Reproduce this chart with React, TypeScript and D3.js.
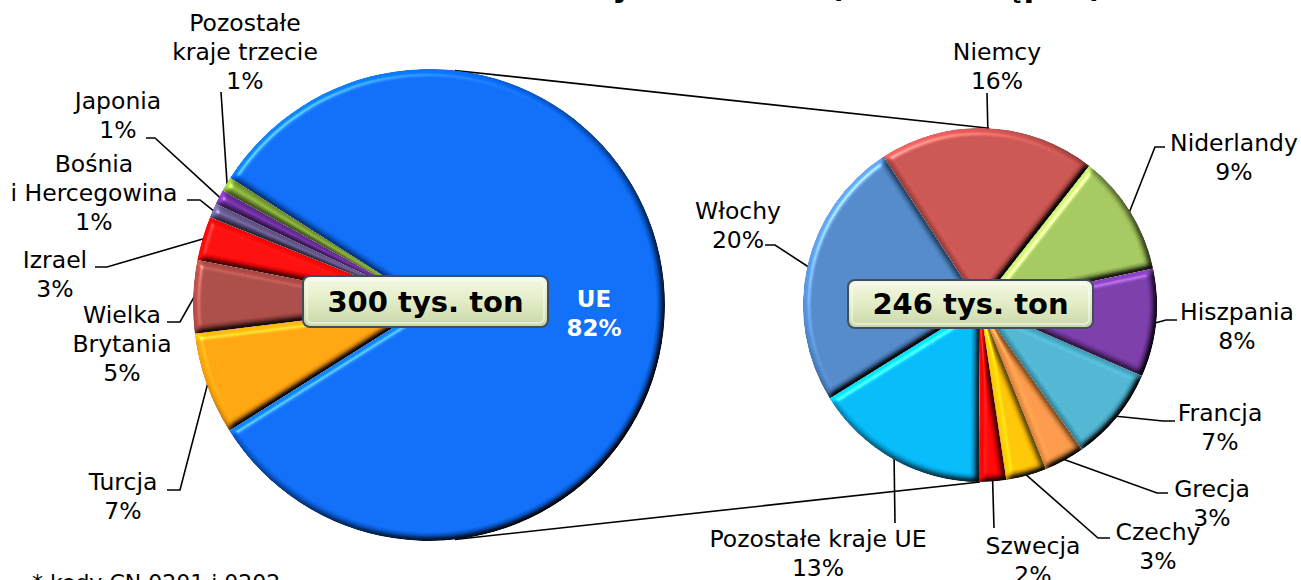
import React, { useRef, useEffect } from "react";
import * as d3 from "d3";

// data
const worldNames = ["UE", "Turcja", "Wielka Brytania", "Izrael", "Bośnia i Hercegowina", "Japonia", "Pozostałe kraje trzecie"];
const worldLines = [["UE"], ["Turcja"], ["Wielka", "Brytania"], ["Izrael"], ["Bośnia", "i Hercegowina"], ["Japonia"], ["Pozostałe", "kraje trzecie"]];
const worldShares = [82, 7, 5, 3, 1, 1, 1];
const worldColors = ["#0a68f0", "#ffa00a", "#a54742", "#ff0808", "#6a5c92", "#7231a6", "#8ab23b"];

const euNames = ["Niemcy", "Niderlandy", "Hiszpania", "Francja", "Grecja", "Czechy", "Szwecja", "Pozostałe kraje UE", "Włochy"];
const euShares = [16, 9, 8, 7, 3, 3, 2, 13, 20];
const euColors = ["#c4504d", "#9fc25a", "#7638a4", "#4bb0cc", "#f59445", "#ffc000", "#ff0000", "#00b4f2", "#4e84c4"];

const totals = ["300 tys. ton", "246 tys. ton"];
const title = "Źródła dostaw wołowiny* w 2011 r. (dane wstępne)";
const footnote = "* kody CN 0201 i 0202";

// layout (label anchors: centre x, first baseline, leader points on the label side)
const worldLayout = [
  { x: 594, y: 307, inside: true },
  { x: 123, y: 490, lead: [[167, 490], [180, 490]] },
  { x: 122, y: 323, lead: [[167, 322], [180, 322]] },
  { x: 55, y: 268, lead: [[95, 267], [107, 267]] },
  { x: 94, y: 172, lead: [[187, 200], [200, 200]] },
  { x: 118, y: 109, lead: [[146, 138], [155, 138]] },
  { x: 245, y: 31, lead: [[221, 92]] },
];
const euLayout = [
  { x: 997, y: 60, lead: [[987, 93]] },
  { x: 1234, y: 151, lead: [[1165, 147], [1155, 147]] },
  { x: 1237, y: 320, lead: [[1177, 320], [1166, 320]] },
  { x: 1220, y: 421, lead: [[1175, 421], [1163, 421]] },
  { x: 1212, y: 497, lead: [[1168, 493], [1157, 493]] },
  { x: 1158, y: 540, lead: [[1110, 538], [1098, 538]] },
  { x: 1033, y: 554, lead: [[994, 528]] },
  { x: 818, y: 547, lead: [[895, 523]] },
  { x: 738, y: 219, lead: [[765, 245], [775, 245]] },
];

const deg = Math.PI / 180;
const FONT = "'DejaVu Sans', Verdana, sans-serif";

const App = () => {
  const ref = useRef(null);

  useEffect(() => {
    const svg = d3.select(ref.current);
    svg.selectAll("*").remove();

    const width = 1301;
    const height = 580;
    svg.attr("width", width).attr("height", height);

    const defs = svg.append("defs");

    // bevelled look of the slices
    const f = defs
      .append("filter")
      .attr("id", "bevel")
      .attr("x", "-5%")
      .attr("y", "-5%")
      .attr("width", "110%")
      .attr("height", "110%")
      .attr("color-interpolation-filters", "sRGB");
    f.append("feGaussianBlur").attr("in", "SourceAlpha").attr("stdDeviation", 3).attr("result", "blur");
    f.append("feDiffuseLighting")
      .attr("in", "blur")
      .attr("surfaceScale", 5)
      .attr("diffuseConstant", 1)
      .attr("lighting-color", "#ffffff")
      .attr("result", "diff")
      .append("feDistantLight")
      .attr("azimuth", 225)
      .attr("elevation", 50);
    f.append("feSpecularLighting")
      .attr("in", "blur")
      .attr("surfaceScale", 5)
      .attr("specularConstant", 0.35)
      .attr("specularExponent", 30)
      .attr("lighting-color", "#ffffff")
      .attr("result", "spec")
      .append("feDistantLight")
      .attr("azimuth", 225)
      .attr("elevation", 50);
    f.append("feComposite")
      .attr("in", "SourceGraphic")
      .attr("in2", "diff")
      .attr("operator", "arithmetic")
      .attr("k1", 1.3)
      .attr("k2", 0)
      .attr("k3", 0)
      .attr("k4", 0)
      .attr("result", "lit");
    f.append("feComposite").attr("in", "spec").attr("in2", "SourceAlpha").attr("operator", "in").attr("result", "specIn");
    f.append("feComposite")
      .attr("in", "lit")
      .attr("in2", "specIn")
      .attr("operator", "arithmetic")
      .attr("k1", 0)
      .attr("k2", 1)
      .attr("k3", 1)
      .attr("k4", -0.02)
      .attr("result", "sum");
    f.append("feComposite").attr("in", "sum").attr("in2", "SourceAlpha").attr("operator", "in");

    const grad = defs
      .append("linearGradient")
      .attr("id", "boxFill")
      .attr("x1", 0)
      .attr("y1", 0)
      .attr("x2", 0)
      .attr("y2", 1);
    grad.append("stop").attr("offset", "0%").attr("stop-color", "#f5f9e6");
    grad.append("stop").attr("offset", "45%").attr("stop-color", "#e4eec9");
    grad.append("stop").attr("offset", "100%").attr("stop-color", "#c9d6a6");

    // title, almost entirely above the visible area
    svg
      .append("text")
      .attr("x", 1103)
      .attr("y", -3)
      .attr("text-anchor", "end")
      .attr("font-family", FONT)
      .attr("font-weight", "bold")
      .attr("font-size", 31)
      .text(title);

    const pies = [
      { cx: 429, cy: 305, r: 236, start: -57.4, values: worldShares, colors: worldColors, lines: worldLines, layout: worldLayout, total: totals[0], box: [303, 276, 245, 51] },
      { cx: 980, cy: 305, r: 177, start: -33, values: euShares, colors: euColors, lines: euNames.map((n) => [n]), layout: euLayout, total: totals[1], box: [848, 280, 245, 48] },
    ];

    // connector lines between the two pies
    const [L, R] = pies;
    const conn = [
      [d3.pointRadial(6.3 * deg, L.r), d3.pointRadial(3 * deg, R.r)],
      [d3.pointRadial(173.7 * deg, L.r), d3.pointRadial(180 * deg, R.r)],
    ];
    conn.forEach(([a, b]) => {
      svg
        .append("line")
        .attr("x1", L.cx + a[0])
        .attr("y1", L.cy + a[1])
        .attr("x2", R.cx + b[0])
        .attr("y2", R.cy + b[1])
        .attr("stroke", "#000")
        .attr("stroke-width", 1.6);
    });

    pies.forEach((p) => {
      const pie = d3
        .pie()
        .sort(null)
        .value((d) => d)
        .startAngle(p.start * deg)
        .endAngle(p.start * deg + 2 * Math.PI);
      const arcs = pie(p.values);
      const arc = d3.arc().innerRadius(0).outerRadius(p.r);
      const rim = d3.arc().innerRadius(p.r - 1).outerRadius(p.r - 1);

      const g = svg.append("g").attr("transform", `translate(${p.cx},${p.cy})`);

      // leader lines
      arcs.forEach((d, i) => {
        const lay = p.layout[i];
        if (!lay.lead) return;
        const c = rim.centroid(d);
        const pts = lay.lead.map(([x, y]) => [x - p.cx, y - p.cy]).concat([c]);
        g.append("path")
          .attr("d", d3.line()(pts))
          .attr("fill", "none")
          .attr("stroke", "#000")
          .attr("stroke-width", 1.6);
      });

      g.selectAll("path.slice")
        .data(arcs)
        .join("path")
        .attr("class", "slice")
        .attr("d", arc)
        .attr("fill", (d, i) => p.colors[i])
        .attr("filter", "url(#bevel)");

      // labels
      arcs.forEach((d, i) => {
        const lay = p.layout[i];
        const rows = p.lines[i].concat([`${p.values[i]}%`]);
        const t = svg
          .append("text")
          .attr("font-family", FONT)
          .attr("font-size", lay.inside ? 23 : 23.5)
          .attr("font-weight", lay.inside ? "bold" : "normal")
          .attr("fill", lay.inside ? "#fff" : "#000")
          .attr("text-anchor", "middle");
        rows.forEach((row, k) => {
          t.append("tspan")
            .attr("x", lay.x)
            .attr("y", lay.y + k * 29)
            .text(row);
        });
      });

      // total box
      const [bx, by, bw, bh] = p.box;
      svg
        .append("rect")
        .attr("x", bx)
        .attr("y", by)
        .attr("width", bw)
        .attr("height", bh)
        .attr("rx", 7)
        .attr("fill", "url(#boxFill)")
        .attr("stroke", "#3e4e5e")
        .attr("stroke-width", 2);
      svg
        .append("rect")
        .attr("x", bx + 4)
        .attr("y", by + 4)
        .attr("width", bw - 8)
        .attr("height", bh - 8)
        .attr("rx", 5)
        .attr("fill", "none")
        .attr("stroke", "#ffffff")
        .attr("stroke-opacity", 0.6)
        .attr("stroke-width", 1.5);
      svg
        .append("text")
        .attr("x", bx + bw / 2)
        .attr("y", by + bh / 2 + 10)
        .attr("text-anchor", "middle")
        .attr("font-family", FONT)
        .attr("font-weight", "bold")
        .attr("font-size", 29)
        .attr("fill", "#000")
        .text(p.total);
    });

    svg
      .append("text")
      .attr("x", 32)
      .attr("y", 590)
      .attr("font-family", FONT)
      .attr("font-size", 22)
      .text(footnote);
  }, []);

  return <svg ref={ref} style={{ position: "absolute", left: 0, top: 0, background: "#fff" }}></svg>;
};

export default App;
